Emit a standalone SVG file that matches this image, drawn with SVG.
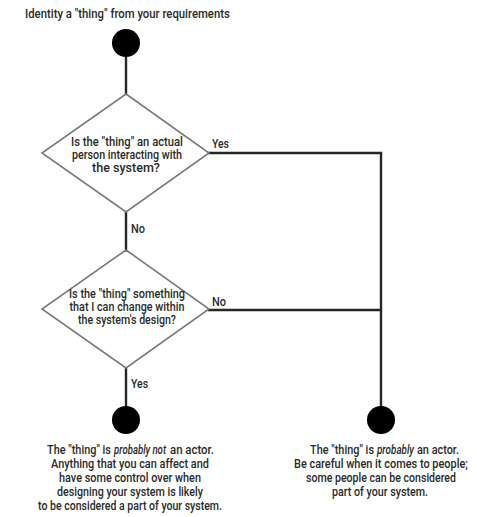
<svg xmlns="http://www.w3.org/2000/svg" width="477" height="517" viewBox="0 0 477 517">
<style>
text{font-family:Roboto,"Liberation Sans",Arial,sans-serif;font-weight:500;font-size:13px;fill:#2a2a2a}
.c{text-anchor:middle}
.s{font-size:12px}
.dia{fill:#fff;stroke:#7a7a7a;stroke-width:1.6}
.dot{fill:#000}
.ln{fill:none;stroke:#262626;stroke-width:2.4}
.it{font-style:italic}
</style>
<rect width="477" height="517" fill="#fff"/>
<g id="title" transform="scale(0.8,1)"><text x="31.25" y="18" textLength="256" lengthAdjust="spacingAndGlyphs">Identity a "thing" from your requirements</text></g>
<g id="connectors">
<line class="ln" x1="126" y1="55" x2="126" y2="94"/>
<line class="ln" x1="126" y1="212" x2="126" y2="250"/>
<line class="ln" x1="126" y1="368" x2="126" y2="408"/>
<polyline class="ln" points="208,153 381,153 381,408"/>
<line class="ln" x1="208" y1="310" x2="381" y2="310"/>
<g transform="scale(0.8,1)">
<text x="265" y="148" textLength="21.25" lengthAdjust="spacingAndGlyphs">Yes</text>
<text x="163.75" y="233" textLength="17.5" lengthAdjust="spacingAndGlyphs">No</text>
<text x="265" y="306" textLength="17.5" lengthAdjust="spacingAndGlyphs">No</text>
<text x="163.75" y="388" textLength="21.25" lengthAdjust="spacingAndGlyphs">Yes</text>
</g>
</g>
<g id="start"><circle class="dot" cx="126" cy="43" r="14"/></g>
<g id="decision1">
<polygon class="dia" points="126,94 209,153 126,212 42,153"/>
<g transform="scale(0.8,1)">
<text class="c s" x="158.75" y="146" textLength="140" lengthAdjust="spacingAndGlyphs">Is the "thing" an actual</text>
<text class="c s" x="158.75" y="159" textLength="137.5" lengthAdjust="spacingAndGlyphs">person interacting with</text>
<text class="c s" x="157.5" y="172" textLength="85" lengthAdjust="spacingAndGlyphs">the system?</text>
</g>
</g>
<g id="decision2">
<polygon class="dia" points="126,250 209,309 126,368 42,309"/>
<g transform="scale(0.8,1)">
<text class="c s" x="158.75" y="298" textLength="145" lengthAdjust="spacingAndGlyphs">Is the "thing" something</text>
<text class="c s" x="158.75" y="311" textLength="143.75" lengthAdjust="spacingAndGlyphs">that I can change within</text>
<text class="c s" x="158.75" y="324" textLength="122.5" lengthAdjust="spacingAndGlyphs">the system's design?</text>
</g>
</g>
<g id="end-not-actor">
<circle class="dot" cx="126" cy="420" r="14"/>
<g transform="scale(0.8,1)">
<text x="58.75" y="454" textLength="80" lengthAdjust="spacingAndGlyphs">The "thing" is</text>
<text class="it" x="142.5" y="454" textLength="65" lengthAdjust="spacingAndGlyphs">probably not</text>
<text x="212.5" y="454" textLength="55" lengthAdjust="spacingAndGlyphs">an actor.</text>
<text class="c" x="162.5" y="468" textLength="197.5" lengthAdjust="spacingAndGlyphs">Anything that you can affect and</text>
<text class="c" x="162.5" y="482" textLength="177.5" lengthAdjust="spacingAndGlyphs">have some control over when</text>
<text class="c" x="162.5" y="496" textLength="182.5" lengthAdjust="spacingAndGlyphs">designing your system is likely</text>
<text class="c" x="162.5" y="510" textLength="230" lengthAdjust="spacingAndGlyphs">to be considered a part of your system.</text>
</g>
</g>
<g id="end-actor">
<circle class="dot" cx="381" cy="420" r="14"/>
<g transform="scale(0.8,1)">
<text x="387.5" y="454" textLength="80" lengthAdjust="spacingAndGlyphs">The "thing" is</text>
<text class="it" x="471.25" y="454" textLength="46.25" lengthAdjust="spacingAndGlyphs">probably</text>
<text x="521.25" y="454" textLength="52.5" lengthAdjust="spacingAndGlyphs">an actor.</text>
<text class="c" x="476.25" y="468" textLength="217.5" lengthAdjust="spacingAndGlyphs">Be careful when it comes to people;</text>
<text class="c" x="476.25" y="482" textLength="187.5" lengthAdjust="spacingAndGlyphs">some people can be considered</text>
<text class="c" x="475" y="496" textLength="120" lengthAdjust="spacingAndGlyphs">part of your system.</text>
</g>
</g>
</svg>
